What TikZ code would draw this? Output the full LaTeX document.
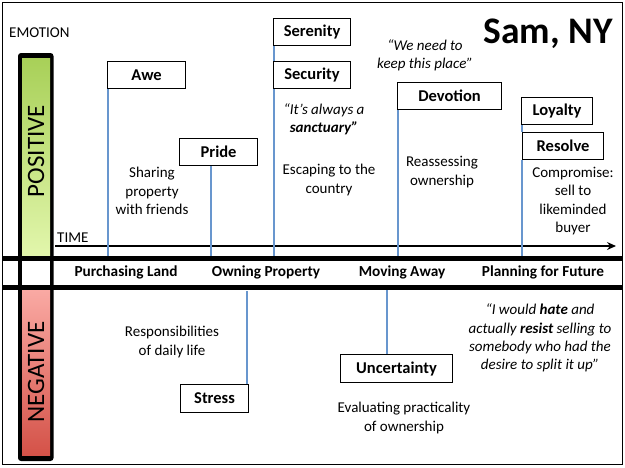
\documentclass[tikz,border=0pt]{standalone}
\usepackage{fontspec}
\setmainfont{Carlito}
\usetikzlibrary{arrows.meta}
\definecolor{stemblue}{RGB}{104,150,206}
\definecolor{greentop}{RGB}{168,208,88}
\definecolor{greenbot}{RGB}{226,246,172}
\definecolor{redtop}{RGB}{250,170,164}
\definecolor{redbot}{RGB}{212,82,72}
\tikzset{
  emobox/.style={draw, line width=1.1pt, fill=white, inner sep=0pt, anchor=north west,
    minimum height=27pt, font=\bfseries\fontsize{16.5}{18}\selectfont},
  stem/.style={draw=stemblue, line width=1.2pt},
  band/.style={line width=5pt},
  note/.style={align=center, inner sep=0pt, font=\fontsize{15}{18.3}\selectfont},
  quote/.style={note, font=\itshape\fontsize{15}{18.3}\selectfont},
  phase/.style={inner sep=0pt, font=\bfseries\fontsize{15.3}{17}\selectfont},
  axislabel/.style={inner sep=0pt, anchor=west, font=\fontsize{15}{17}\selectfont},
  valence/.style={inner sep=0pt, rotate=90, font=\fontsize{25}{28}\selectfont}
}
\begin{document}
\begin{tikzpicture}[x=1pt, y=-1pt]
\useasboundingbox (0,0) rectangle (625,467);
% frame
\draw[line width=1.2pt] (2.5,2.5) rectangle (622.5,464.5);

% valence bar
\fill[black, rounded corners=3pt] (18,53) rectangle (53.5,461);
\shade[top color=greentop, bottom color=greenbot] (22,58) rectangle (50,256);
\fill[white] (22,258) rectangle (50,287);
\shade[top color=redtop, bottom color=redbot] (22,289) rectangle (50,455);
\node[valence] (pos) at (36,151) {POSITIVE};
\node[valence] (neg) at (36,372) {NEGATIVE};

% axis labels
\node[axislabel] (emotion) at (9,33) {EMOTION};
\node[axislabel] (time) at (57,238) {TIME};
\node[inner sep=0pt, font=\bfseries\fontsize{37.5}{40}\selectfont] (title) at (548,34) {Sam, NY};

% time axis and phase bands
\coordinate (t0) at (55,246);
\coordinate (t1) at (616,246);
\draw[line width=1.8pt, -{Stealth[length=9pt, width=8pt, inset=3pt]}] (t0) -- (t1);
\coordinate (b0) at (3,258);
\coordinate (b1) at (623,258);
\coordinate (c0) at (3,287.5);
\coordinate (c1) at (623,287.5);
\draw[band] (b0) -- (b1);
\draw[band] (c0) -- (c1);

\node[phase] (p1) at (126,272) {Purchasing Land};
\node[phase] (p2) at (266,272) {Owning Property};
\node[phase] (p3) at (402,272) {Moving Away};
\node[phase] (p4) at (543,272) {Planning for Future};

% positive emotions
\node[emobox, minimum width=78pt] (awe) at (107,61) {Awe};
\node[emobox, minimum width=78pt] (pride) at (179,138) {Pride};
\node[emobox, minimum width=77pt] (serenity) at (273,18) {Serenity};
\node[emobox, minimum width=77pt] (security) at (273,61) {Security};
\node[emobox, minimum width=104pt] (devotion) at (397,82) {Devotion};
\node[emobox, minimum width=71pt] (loyalty) at (521,97) {Loyalty};
\node[emobox, minimum width=81pt] (resolve) at (522,132) {Resolve};

% negative emotions
\node[emobox, minimum width=68pt, minimum height=28pt] (stress) at (180,384) {Stress};
\node[emobox, minimum width=112pt, minimum height=28pt] (uncert) at (340,354) {Uncertainty};

% stems down to / up from the timeline
\coordinate (sAwe) at (108,256);
\coordinate (sPride) at (211,256);
\coordinate (sSec) at (274,256);
\coordinate (sDev) at (398,256);
\coordinate (sRes) at (522,256);
\coordinate (sStressTop) at (247,291);
\coordinate (sStressBot) at (247,384);
\coordinate (sUncTop) at (387,290);
\coordinate (sUncBot) at (387,354);
\draw[stem] ([xshift=1pt]awe.south west) -- (sAwe);
\draw[stem] (pride.south -| sPride) -- (sPride);
\draw[stem] ([xshift=1pt]serenity.south west) -- ([xshift=1pt]security.north west);
\draw[stem] ([xshift=1pt]security.south west) -- (sSec);
\draw[stem] ([xshift=1pt]devotion.south west) -- (sDev);
\draw[stem] ([xshift=1pt]loyalty.south west) -- ([xshift=0pt]resolve.north west);
\draw[stem] ([xshift=0pt]resolve.south west) -- (sRes);
\draw[stem] (sStressTop) -- (sStressBot);
\draw[stem] (sUncTop) -- (sUncBot);

% annotations
\node[note] (sharing) at (152,191) {Sharing\\property\\with friends};
\node[quote] (sanct) at (324,119) {“It’s always a\\\textbf{sanctuary”}};
\node[note] (escape) at (329,180) {Escaping to the\\country};
\node[quote] (keep) at (425,55) {“We need to\\keep this place”};
\node[note] (reass) at (442,172) {Reassessing\\ownership};
\node[note] (compr) at (573,201) {Compromise:\\sell to\\likeminded\\buyer};
\node[note] (resp) at (172,342) {Responsibilities\\of daily life};
\node[note] (eval) at (404,418) {Evaluating practicality\\of ownership};
\node[quote] (hate) at (540,338) {“I would \textbf{hate} and\\actually \textbf{resist} selling to\\somebody who had the\\desire to split it up”};
\end{tikzpicture}
\end{document}
